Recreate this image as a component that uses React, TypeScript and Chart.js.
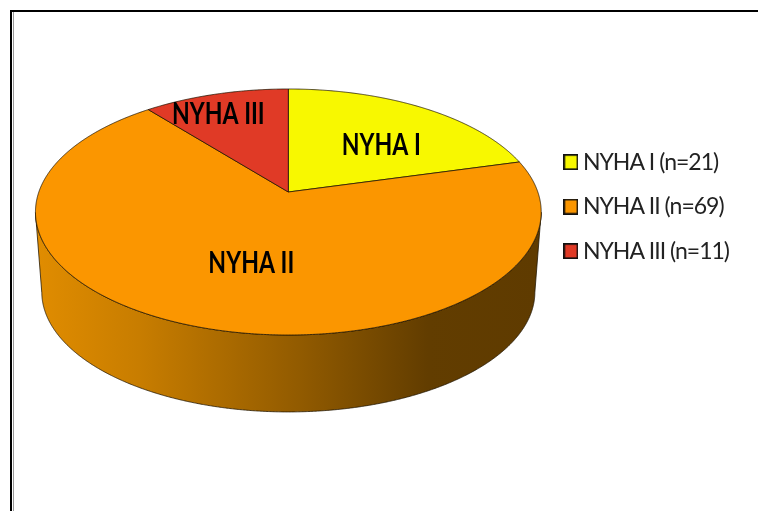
import React, { useEffect, useRef } from "react";
import { Chart, registerables, ArcElement, PieController } from "chart.js";

const categories = ["NYHA I", "NYHA II", "NYHA III"];
const legendLabels = ["NYHA I (n=21)", "NYHA II (n=69)", "NYHA III (n=11)"];
const patients = [21, 69, 11];
const sliceColors = ["#F8F800", "#FB9600", "#E03A26"];
// label offset from the pie's hub, px
const labelOffsetX = [93, -37, -70];
const labelOffsetY = [-47, 71, -78];

// The pie is viewed in perspective: the unit disc is projected with a homography.
const PERSPECTIVE = 0.1626;
const SCALE_X = 249.5 / 192;
const SCALE_Y = 119.75 / 192;
const WALL_DROP = 80;
const WALL_SHRINK = 0.975;
const ELLIPSE_SHIFT = 20;

function project(cx: number, cy: number, r: number, a: number) {
  const u = Math.cos(a);
  const v = -Math.sin(a);
  const d = 1 + PERSPECTIVE * v;
  return { x: cx + (SCALE_X * r * u) / d, y: cy - (SCALE_Y * r * v) / d, v };
}

function swatch(color: string) {
  const c = document.createElement("canvas");
  c.width = 15;
  c.height = 16;
  const g = c.getContext("2d")!;
  g.fillStyle = color;
  g.fillRect(1, 1, 13, 14);
  g.strokeStyle = "#111";
  g.lineWidth = 1.7;
  g.strokeRect(0.85, 0.85, 13.3, 14.3);
  return c;
}

class Arc3D extends ArcElement {
  static id = "arc3d";
  static defaults = ArcElement.defaults;
  static defaultRoutes = ArcElement.defaultRoutes;
  draw(ctx: CanvasRenderingContext2D) {
    const { x, y, startAngle, endAngle, outerRadius } = (this as any).getProps([
      "x", "y", "startAngle", "endAngle", "outerRadius",
    ]);
    const options = (this as any).options;
    const steps = Math.max(2, Math.ceil((endAngle - startAngle) / 0.005));
    const pts: any[] = [];
    for (let i = 0; i <= steps; i++) {
      pts.push(project(x, y, outerRadius, startAngle + ((endAngle - startAngle) * i) / steps));
    }
    const front = pts.filter((p) => p.v <= -PERSPECTIVE);
    ctx.save();
    ctx.lineJoin = "round";
    ctx.lineWidth = 0.9;
    ctx.strokeStyle = "rgba(30,20,0,0.85)";
    if (front.length > 1) {
      const midY = y + ELLIPSE_SHIFT;
      const low = (p: any) => ({
        x: x + (p.x - x) * WALL_SHRINK,
        y: midY + WALL_DROP + (p.y - midY) * WALL_SHRINK,
      });
      const g = ctx.createLinearGradient(x - SCALE_X * outerRadius, 0, x + SCALE_X * outerRadius, 0);
      g.addColorStop(0, "#E08C00");
      g.addColorStop(0.2, "#C87D00");
      g.addColorStop(0.52, "#925B00");
      g.addColorStop(0.78, "#623D00");
      g.addColorStop(1, "#5F3B00");
      ctx.beginPath();
      front.forEach((p, i) => (i ? ctx.lineTo(p.x, p.y) : ctx.moveTo(p.x, p.y)));
      [...front].reverse().forEach((p) => {
        const q = low(p);
        ctx.lineTo(q.x, q.y);
      });
      ctx.closePath();
      ctx.fillStyle = g;
      ctx.fill();
      ctx.stroke();
    }
    ctx.beginPath();
    ctx.moveTo(x, y);
    pts.forEach((p) => ctx.lineTo(p.x, p.y));
    ctx.closePath();
    ctx.fillStyle = options.backgroundColor;
    ctx.fill();
    ctx.stroke();
    ctx.restore();
  }
}

class Pie3D extends PieController {
  static id = "pie3d";
  static defaults = { dataElementType: "arc3d" };
}

const LABEL_SQUEEZE = 0.77;
const sliceLabels = {
  id: "sliceLabels",
  beforeLayout(chart: any) {
    // tightens the legend text, which is condensed in the reference
    chart.ctx.letterSpacing = "-1px";
  },
  afterDatasetsDraw(chart: any) {
    const { ctx } = chart;
    const meta = chart.getDatasetMeta(0);
    ctx.save();
    ctx.letterSpacing = "0px";
    ctx.font = "bold 30px Lato";
    ctx.fillStyle = "#000";
    ctx.textAlign = "center";
    ctx.textBaseline = "middle";
    meta.data.forEach((arc: any, i: number) => {
      ctx.save();
      ctx.translate(arc.x + labelOffsetX[i], arc.y + labelOffsetY[i]);
      ctx.scale(LABEL_SQUEEZE, 1);
      ctx.fillText(categories[i], 0, 0);
      ctx.restore();
    });
    ctx.restore();
  },
};

Chart.register(...registerables, Arc3D, Pie3D);

export default function App() {
  const ref = useRef<HTMLCanvasElement>(null);
  useEffect(() => {
    const chart = new Chart(ref.current!, {
      type: "pie3d" as any,
      data: {
        labels: legendLabels,
        datasets: [{ data: patients, backgroundColor: sliceColors, borderWidth: 0 }],
      },
      options: {
        responsive: false,
        animation: false,
        layout: { padding: { left: 27.75, top: 0, right: 19, bottom: 127 } },
        plugins: {
          tooltip: { enabled: false },
          legend: {
            position: "right",
            title: { display: true, text: " ", font: { size: 1 }, padding: { top: 14, bottom: 14 } },
            labels: {
              usePointStyle: true,
              pointStyleWidth: 1,
              boxHeight: 14,
              padding: 21.5,
              color: "#222",
              font: { family: "Lato", size: 23 },
              generateLabels: () =>
                legendLabels.map((text, i) => ({
                  text,
                  fontColor: "#222",
                  pointStyle: swatch(sliceColors[i]),
                  fillStyle: sliceColors[i],
                  strokeStyle: "#111",
                  lineWidth: 1.6,
                  index: i,
                })),
            },
          },
        },
      } as any,
      plugins: [sliceLabels],
    });
    return () => chart.destroy();
  }, []);
  return (
    <div style={{ position: "fixed", left: 0, top: 0, width: 758, height: 511, overflow: "hidden", background: "#fff" }}>
      <div style={{ position: "absolute", left: 10, top: 10, width: 900, height: 900, border: "2px solid #000" }} />
      <div style={{ position: "absolute", left: 13, top: 12, width: 1, height: 900, background: "#999" }} />
      <canvas ref={ref} width={758} height={511} style={{ position: "absolute", left: 0, top: 0 }} />
    </div>
  );
}
